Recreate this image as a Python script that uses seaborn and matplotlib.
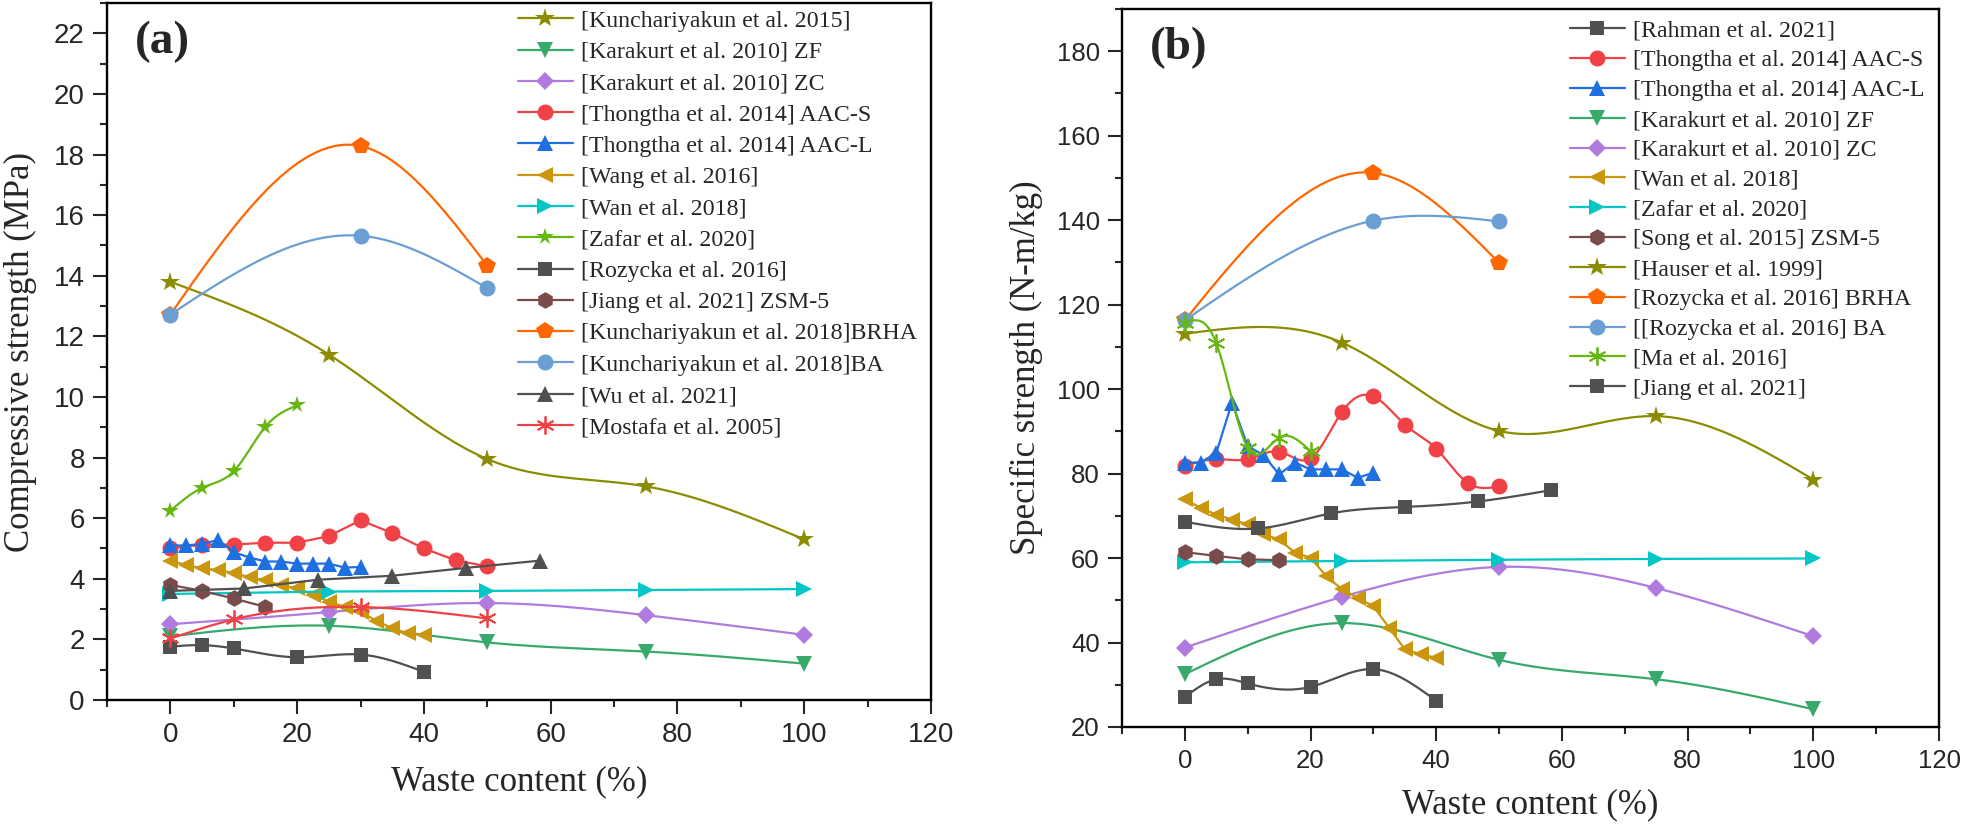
"""
Two-panel comparison: compressive strength (a) and specific strength (b)
against waste content, one line per literature source.
"""

import numpy as np
import matplotlib
matplotlib.use("Agg")
import matplotlib.pyplot as plt
from matplotlib.lines import Line2D
from matplotlib.ticker import MultipleLocator
import seaborn as sns

# ─────────────────────────────────────────────
# DATA
# ─────────────────────────────────────────────
# panel (a) – compressive strength (MPa)
A_KUN15_X = [0, 25, 50, 75, 100]
A_KUN15_Y = [13.8, 11.4, 7.95, 7.05, 5.3]
A_ZF_X = [0, 25, 50, 75, 100]
A_ZF_Y = [2.1, 2.45, 1.9, 1.6, 1.2]
A_ZC_X = [0, 25, 50, 75, 100]
A_ZC_Y = [2.5, 2.9, 3.2, 2.8, 2.15]
A_AACS_X = [0, 5, 10, 15, 20, 25, 30, 35, 40, 45, 50]
A_AACS_Y = [5.0, 5.13, 5.13, 5.19, 5.19, 5.41, 5.93, 5.51, 5.0, 4.61, 4.41]
A_AACL_X = [0, 2.5, 5, 7.5, 10, 12.5, 15, 17.5, 20, 22.5, 25, 27.5, 30]
A_AACL_Y = [5.1, 5.1, 5.15, 5.28, 4.88, 4.7, 4.57, 4.57, 4.5, 4.5, 4.5, 4.37, 4.39]
A_WANG_X = [0, 2.5, 5, 7.5, 10, 12.5, 15, 17.5, 20, 22.5, 25, 27.5, 30, 32.5, 35, 37.5, 40]
A_WANG_Y = [4.6, 4.45, 4.35, 4.28, 4.2, 4.05, 3.95, 3.78, 3.68, 3.48, 3.25, 3.07,
            2.9, 2.62, 2.36, 2.2, 2.14]
A_WAN_X = [0, 25, 50, 75, 100]
A_WAN_Y = [3.5, 3.58, 3.6, 3.63, 3.66]
A_ZAFAR_X = [0, 5, 10, 15, 20]
A_ZAFAR_Y = [6.25, 7.0, 7.55, 9.02, 9.72]
A_ROZ_X = [0, 5, 10, 20, 30, 40]
A_ROZ_Y = [1.76, 1.81, 1.7, 1.41, 1.5, 0.93]
A_JIANG_X = [0, 5, 10, 15]
A_JIANG_Y = [3.8, 3.6, 3.35, 3.07]
A_BRHA_X = [0, 30, 50]
A_BRHA_Y = [12.72, 18.28, 14.33]
A_BA_X = [0, 30, 50]
A_BA_Y = [12.72, 15.32, 13.59]
A_WU_X = [0, 11.67, 23.33, 35, 46.67, 58.33]
A_WU_Y = [3.6, 3.68, 3.97, 4.1, 4.36, 4.6]
A_MOST_X = [0, 10, 30, 50]
A_MOST_Y = [2.03, 2.66, 3.07, 2.69]

# panel (b) – specific strength (N-m/kg)
B_RAH_X = [0, 5, 10, 20, 30, 40]
B_RAH_Y = [27.1, 31.3, 30.3, 29.5, 33.7, 26.2]
B_AACS_X = [0, 5, 10, 15, 20, 25, 30, 35, 40, 45, 50]
B_AACS_Y = [81.8, 83.4, 83.4, 85.2, 83.6, 94.6, 98.3, 91.6, 85.9, 77.8, 77.0]
B_AACL_X = [0, 2.5, 5, 7.5, 10, 12.5, 15, 17.5, 20, 22.5, 25, 27.5, 30]
B_AACL_Y = [82.6, 82.6, 84.9, 96.8, 86.5, 84.4, 79.8, 82.6, 81.0, 81.0, 81.0, 79.0, 80.2]
B_ZF_X = [0, 25, 50, 75, 100]
B_ZF_Y = [32.5, 44.6, 35.9, 31.3, 24.2]
B_ZC_X = [0, 25, 50, 75, 100]
B_ZC_Y = [38.8, 50.8, 57.9, 52.9, 41.5]
B_WAN_X = [0, 2.5, 5, 7.5, 10, 12.5, 15, 17.5, 20, 22.5, 25, 27.5, 30, 32.5, 35, 37.5, 40]
B_WAN_Y = [73.9, 71.9, 70.3, 69.1, 68.0, 65.6, 64.4, 61.3, 60.1, 55.7, 52.6, 50.6,
           48.6, 43.5, 38.4, 37.2, 36.4]
B_ZAFAR_X = [0, 25, 50, 75, 100]
B_ZAFAR_Y = [59.0, 59.3, 59.6, 59.8, 59.9]
B_SONG_X = [0, 5, 10, 15]
B_SONG_Y = [61.4, 60.5, 59.7, 59.5]
B_HAUS_X = [0, 25, 50, 75, 100]
B_HAUS_Y = [113.1, 111.0, 90.1, 93.6, 78.6]
B_BRHA_X = [0, 30, 50]
B_BRHA_Y = [116.3, 151.2, 129.9]
B_BA_X = [0, 30, 50]
B_BA_Y = [116.3, 139.9, 139.7]
B_MA_X = [0, 5, 10, 15, 20]
B_MA_Y = [115.7, 110.9, 86.1, 88.5, 85.3]
B_JIANG_X = [0, 11.67, 23.33, 35, 46.67, 58.33]
B_JIANG_Y = [68.6, 67.0, 70.6, 72.1, 73.4, 76.1]

# ─────────────────────────────────────────────
# STYLE
# ─────────────────────────────────────────────
OLIVE, GREEN, PURPLE = "#8C8C00", "#36A96B", "#B07ADF"
RED, BLUE, GOLD = "#F04146", "#1E6FE0", "#C9960C"
CYAN, LIME, DARK = "#00C6C6", "#66B811", "#505050"
BROWN, ORANGE, SKY = "#7A4B4B", "#FF6600", "#6B9FD3"
ASTER = (6, 2, 0)   # line asterisk

MK = {
    "star":  dict(marker="*", ms=15),
    "star2": dict(marker="*", ms=13),
    "tri_d": dict(marker="v", ms=11),
    "diam":  dict(marker="D", ms=9),
    "circ":  dict(marker="o", ms=11.5),
    "tri_u": dict(marker="^", ms=11),
    "tri_l": dict(marker="<", ms=11),
    "tri_r": dict(marker=">", ms=11),
    "sq":    dict(marker="s", ms=10),
    "hex":   dict(marker="h", ms=12),
    "pent":  dict(marker="p", ms=13),
    "aster": dict(marker=ASTER, ms=13),
}

# (label, x, y, color, marker key, smooth line)
SERIES_A = [
    ("[Kunchariyakun et al. 2015]", A_KUN15_X, A_KUN15_Y, OLIVE, "star", True),
    ("[Karakurt et al. 2010] ZF", A_ZF_X, A_ZF_Y, GREEN, "tri_d", True),
    ("[Karakurt et al. 2010] ZC", A_ZC_X, A_ZC_Y, PURPLE, "diam", True),
    ("[Thongtha et al. 2014] AAC-S", A_AACS_X, A_AACS_Y, RED, "circ", False),
    ("[Thongtha et al. 2014] AAC-L", A_AACL_X, A_AACL_Y, BLUE, "tri_u", False),
    ("[Wang et al. 2016]", A_WANG_X, A_WANG_Y, GOLD, "tri_l", False),
    ("[Wan et al. 2018]", A_WAN_X, A_WAN_Y, CYAN, "tri_r", False),
    ("[Zafar et al. 2020]", A_ZAFAR_X, A_ZAFAR_Y, LIME, "star2", True),
    ("[Rozycka et al. 2016]", A_ROZ_X, A_ROZ_Y, DARK, "sq", True),
    ("[Jiang et al. 2021] ZSM-5", A_JIANG_X, A_JIANG_Y, BROWN, "hex", False),
    ("[Kunchariyakun et al. 2018]BRHA", A_BRHA_X, A_BRHA_Y, ORANGE, "pent", True),
    ("[Kunchariyakun et al. 2018]BA", A_BA_X, A_BA_Y, SKY, "circ", True),
    ("[Wu et al. 2021]", A_WU_X, A_WU_Y, DARK, "tri_u", False),
    ("[Mostafa et al. 2005]", A_MOST_X, A_MOST_Y, RED, "aster", True),
]

SERIES_B = [
    ("[Rahman et al. 2021]", B_RAH_X, B_RAH_Y, DARK, "sq", True),
    ("[Thongtha et al. 2014] AAC-S", B_AACS_X, B_AACS_Y, RED, "circ", True),
    ("[Thongtha et al. 2014] AAC-L", B_AACL_X, B_AACL_Y, BLUE, "tri_u", False),
    ("[Karakurt et al. 2010] ZF", B_ZF_X, B_ZF_Y, GREEN, "tri_d", True),
    ("[Karakurt et al. 2010] ZC", B_ZC_X, B_ZC_Y, PURPLE, "diam", True),
    ("[Wan et al. 2018]", B_WAN_X, B_WAN_Y, GOLD, "tri_l", False),
    ("[Zafar et al. 2020]", B_ZAFAR_X, B_ZAFAR_Y, CYAN, "tri_r", False),
    ("[Song et al. 2015] ZSM-5", B_SONG_X, B_SONG_Y, BROWN, "hex", False),
    ("[Hauser et al. 1999]", B_HAUS_X, B_HAUS_Y, OLIVE, "star", True),
    ("[Rozycka et al. 2016] BRHA", B_BRHA_X, B_BRHA_Y, ORANGE, "pent", True),
    ("[[Rozycka et al. 2016] BA", B_BA_X, B_BA_Y, SKY, "circ", True),
    ("[Ma et al. 2016]", B_MA_X, B_MA_Y, LIME, "aster", True),
    ("[Jiang et al. 2021]", B_JIANG_X, B_JIANG_Y, DARK, "sq", True),
]

SERIF = "Liberation Serif"
SANS = "Liberation Sans"
LW = 1.6
LEG_SIZE = 17.2


def spline(x, y, n=200):
    """Natural cubic spline through the points (how the source software joins them)."""
    x = np.asarray(x, float)
    y = np.asarray(y, float)
    k = len(x)
    if k < 3:
        return x, y
    h = np.diff(x)
    A = np.zeros((k, k))
    b = np.zeros(k)
    A[0, 0] = A[-1, -1] = 1
    for i in range(1, k - 1):
        A[i, i - 1], A[i, i], A[i, i + 1] = h[i - 1], 2 * (h[i - 1] + h[i]), h[i]
        b[i] = 3 * ((y[i + 1] - y[i]) / h[i] - (y[i] - y[i - 1]) / h[i - 1])
    c = np.linalg.solve(A, b)
    bb = (y[1:] - y[:-1]) / h - h * (2 * c[:-1] + c[1:]) / 3
    d = (c[1:] - c[:-1]) / (3 * h)
    xs = np.linspace(x[0], x[-1], n)
    idx = np.clip(np.searchsorted(x, xs) - 1, 0, k - 2)
    dx = xs - x[idx]
    ys = y[idx] + bb[idx] * dx + c[idx] * dx ** 2 + d[idx] * dx ** 3
    return xs, ys


def draw_panel(ax, series):
    handles = []
    for label, x, y, color, mk, smooth in series:
        xs, ys = spline(x, y) if smooth else (np.asarray(x, float), np.asarray(y, float))
        sns.lineplot(x=xs, y=ys, ax=ax, color=color, lw=LW, sort=False,
                     estimator=None, legend=False)
        style = MK[mk]
        mew = 1.3 if mk == "aster" else 0
        ax.plot(x, y, ls="none", color=color, mec=color, mew=mew, **style)
        handles.append(Line2D([], [], color=color, lw=LW, mec=color, mew=mew,
                              label=label, **style))
    return handles


def style_axes(ax, tick_size):
    for sp in ax.spines.values():
        sp.set_visible(True)
        sp.set_linewidth(1.7)
        sp.set_color("black")
    ax.tick_params(which="major", direction="out", length=10, width=1.5,
                   labelsize=tick_size, pad=6, top=False, right=False)
    ax.tick_params(which="minor", direction="out", length=5, width=1.5,
                   top=False, right=False)
    for t in ax.get_xticklabels() + ax.get_yticklabels():
        t.set_fontfamily(SANS)
    ax.grid(False)


sns.set_theme(style="ticks")
plt.rcParams["font.family"] = [SANS, "DejaVu Sans"]

fig = plt.figure(figsize=(19.61, 8.24), dpi=100)
ax1 = fig.add_axes([107 / 1961, 1 - 700 / 824, 824 / 1961, 697 / 824])
ax2 = fig.add_axes([1122 / 1961, 1 - 727 / 824, 817 / 1961, 718 / 824])

# ── (a) ──
h1 = draw_panel(ax1, SERIES_A)
ax1.set_xlim(-10, 120)
ax1.set_ylim(0, 23)
ax1.xaxis.set_major_locator(MultipleLocator(20))
ax1.xaxis.set_minor_locator(MultipleLocator(10))
ax1.yaxis.set_major_locator(MultipleLocator(2))
ax1.yaxis.set_minor_locator(MultipleLocator(1))
style_axes(ax1, 20)
ax1.set_xlabel("Waste content (%)", fontfamily=SERIF, fontsize=25, labelpad=12)
ax1.set_ylabel("Compressive strength (MPa)", fontfamily=SERIF, fontsize=25, labelpad=12)
ax1.text(0.034, 0.975, "(a)", transform=ax1.transAxes, ha="left", va="top",
         fontfamily=SERIF, fontsize=34, fontweight="bold")
ax1.legend(handles=h1, loc="upper left", bbox_to_anchor=(0.4988, 0.99),
           frameon=False, borderpad=0, borderaxespad=0, handlelength=2.3,
           handletextpad=0.35, labelspacing=0.40,
           prop={"family": SERIF, "size": LEG_SIZE})

# ── (b) ──
h2 = draw_panel(ax2, SERIES_B)
ax2.set_xlim(-10, 120)
ax2.set_ylim(20, 190)
ax2.xaxis.set_major_locator(MultipleLocator(20))
ax2.xaxis.set_minor_locator(MultipleLocator(10))
ax2.yaxis.set_major_locator(MultipleLocator(20))
ax2.yaxis.set_minor_locator(MultipleLocator(10))
style_axes(ax2, 18.5)
ax2.set_xlabel("Waste content (%)", fontfamily=SERIF, fontsize=25, labelpad=11)
ax2.set_ylabel("Specific strength (N-m/kg)", fontfamily=SERIF, fontsize=25, labelpad=10)
ax2.text(0.034, 0.975, "(b)", transform=ax2.transAxes, ha="left", va="top",
         fontfamily=SERIF, fontsize=34, fontweight="bold")
ax2.legend(handles=h2, loc="upper left", bbox_to_anchor=(0.548, 0.985),
           frameon=False, borderpad=0, borderaxespad=0, handlelength=2.3,
           handletextpad=0.35, labelspacing=0.34,
           prop={"family": SERIF, "size": LEG_SIZE})

fig.savefig("out.png", dpi=100)
plt.close(fig)
